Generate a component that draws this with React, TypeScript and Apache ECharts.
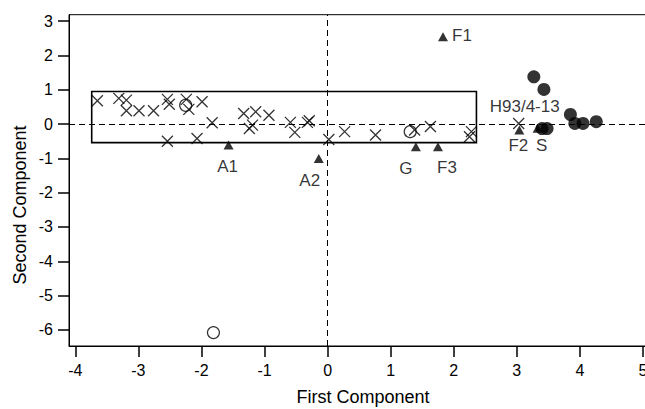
import React, { useEffect, useRef } from "react";
import * as echarts from "echarts";

const xTicks = [-4, -3, -2, -1, 0, 1, 2, 3, 4, 5];
const yTicks = [-6, -5, -4, -3, -2, -1, 0, 1, 2, 3];

// Box drawn round the main cluster
const boxX = [-3.74, 2.36];
const boxY = [-0.54, 0.95];

// Crosses
const crossX = [-3.65, -3.31, -3.19, -3.19, -2.99, -2.76, -2.54, -2.51, -2.24, -2.2, -1.99, -1.83, -2.54, -2.07, -1.33, -1.14, -1.19, -1.24, -0.93, -0.59, -0.52, -0.32, -0.29, 0.02, 0.27, 0.76, 1.38, 1.63, 2.25, 2.28, 3.03];
const crossY = [0.68, 0.75, 0.7, 0.39, 0.39, 0.39, 0.72, 0.58, 0.72, 0.43, 0.65, 0.04, -0.5, -0.42, 0.31, 0.36, -0.03, -0.13, 0.26, 0.05, -0.24, 0.05, 0.1, -0.45, -0.22, -0.32, -0.17, -0.07, -0.37, -0.22, 0.02];
const crossNames = ["", "", "", "", "", "", "", "", "", "", "", "", "", "", "", "", "", "", "", "", "", "", "", "", "", "", "", "", "", "", "H93/4-13"];

// Open circles
const openX = [-1.81, -2.25, 1.31];
const openY = [-6.08, 0.55, -0.22];

// Filled circles
const dotX = [3.27, 3.43, 3.85, 3.92, 4.05, 4.26, 3.4, 3.48];
const dotY = [1.38, 1.01, 0.28, 0.02, 0.02, 0.07, -0.13, -0.13];

// Triangles
const triNames = ["F1", "A1", "A2", "G", "F3", "F2", "S"];
const triX = [1.83, -1.57, -0.14, 1.4, 1.75, 3.04, 3.33];
const triY = [2.55, -0.61, -1.0, -0.66, -0.66, -0.17, -0.12];

// label placement (pixel offsets from the mark)
const triLabelOffset: Record<string, number[]> = {
  F1: [19, -1],
  A1: [-1, 21],
  A2: [-9, 22],
  G: [-10, 22],
  F3: [9, 21],
  F2: [-1, 16],
  S: [4, 17],
};
const crossLabelOffset = [6, -17];

const FONT = "'Liberation Sans', Arial, Helvetica, sans-serif";

export default function App() {
  const ref = useRef<HTMLDivElement>(null);
  useEffect(() => {
    if (!ref.current) return;
    const chart = echarts.init(ref.current, null, { renderer: "svg" });
    const labelBase = {
      show: true,
      position: "inside",
      color: "#000",
      fontSize: 17,
      fontFamily: FONT,
      align: "center",
      verticalAlign: "middle",
    };
    const gridW = 577;
    chart.setOption({
      animation: false,
      backgroundColor: "#fff",
      grid: {
        left: 69,
        top: 14.7,
        width: gridW,
        height: 331.3,
        containLabel: false,
        outerBoundsMode: "none",
        show: true,
        borderColor: "#000",
        borderWidth: 1,
        backgroundColor: "transparent",
      },
      xAxis: {
        type: "value",
        min: -4.1,
        max: -4.1 + gridW / 63.07,
        splitLine: { show: false },
        axisLine: { show: true, onZero: false, lineStyle: { color: "#000", width: 1 } },
        axisTick: { show: true, length: 11, customValues: xTicks, lineStyle: { color: "#000", width: 1.5 } },
        axisLabel: { customValues: xTicks, color: "#000", fontSize: 16, fontFamily: FONT, margin: 16 },
      },
      yAxis: {
        type: "value",
        min: -6.47,
        max: 3.19,
        splitLine: { show: false },
        axisLine: { show: true, onZero: false, lineStyle: { color: "#000", width: 1 } },
        axisTick: { show: true, length: 11, customValues: yTicks, lineStyle: { color: "#000", width: 1.5 } },
        axisLabel: { customValues: yTicks, color: "#000", fontSize: 16, fontFamily: FONT, margin: 16 },
      },
      graphic: [
        {
          type: "text",
          x: 363,
          y: 397,
          style: {
            text: "First Component",
            fill: "#000",
            fontSize: 18,
            fontFamily: FONT,
            align: "center",
            verticalAlign: "middle",
          },
        },
        {
          type: "text",
          x: 20,
          y: 205,
          rotation: Math.PI / 2,
          style: {
            text: "Second Component",
            fill: "#000",
            fontSize: 18,
            fontFamily: FONT,
            align: "center",
            verticalAlign: "middle",
          },
        },
      ],
      series: [
        {
          type: "scatter",
          name: "lines",
          data: [],
          silent: true,
          markLine: {
            silent: true,
            symbol: "none",
            label: { show: false },
            lineStyle: { color: "#000", type: [6, 4], width: 1 },
            data: [{ xAxis: 0 }, { yAxis: 0 }],
          },
          markArea: {
            silent: true,
            itemStyle: { color: "transparent", borderColor: "#000", borderWidth: 1.6 },
            data: [[{ coord: [boxX[0], boxY[0]] }, { coord: [boxX[1], boxY[1]] }]],
          },
        },
        {
          type: "scatter",
          name: "open",
          symbol: "circle",
          symbolSize: 12,
          itemStyle: { color: "transparent", borderColor: "#000", borderWidth: 1.2 },
          data: openX.map((x, i) => [x, openY[i]]),
        },
        {
          type: "scatter",
          name: "cross",
          symbol: "path://M0,0L10,10M10,0L0,10",
          symbolSize: 11,
          itemStyle: { color: "transparent", borderColor: "#000", borderWidth: 1.3 },
          data: crossX.map((x, i) =>
            crossNames[i]
              ? {
                  value: [x, crossY[i]],
                  label: { ...labelBase, formatter: crossNames[i], offset: crossLabelOffset },
                }
              : { value: [x, crossY[i]] }
          ),
        },
        {
          type: "scatter",
          name: "dot",
          symbol: "circle",
          symbolSize: 13,
          itemStyle: { color: "#000" },
          data: dotX.map((x, i) => [x, dotY[i]]),
        },
        {
          type: "scatter",
          name: "tri",
          symbol: "triangle",
          symbolSize: [10, 9],
          itemStyle: { color: "#000" },
          data: triX.map((x, i) => ({
            value: [x, triY[i]],
            label: { ...labelBase, formatter: triNames[i], offset: triLabelOffset[triNames[i]] },
          })),
        },
      ],
    });
    return () => chart.dispose();
  }, []);
  return (
    <div
      ref={ref}
      style={{
        position: "fixed",
        left: 0,
        top: 0,
        width: 645,
        height: 409,
        overflow: "hidden",
        background: "#fff",
      }}
    />
  );
}
